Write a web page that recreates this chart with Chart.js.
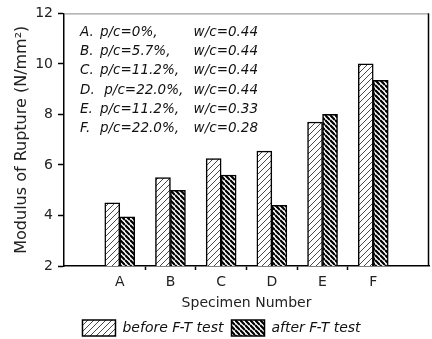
<!DOCTYPE html>
<html>
<head>
<meta charset="utf-8">
<script src="https://cdn.jsdelivr.net/npm/chart.js@4.4.1/dist/chart.umd.min.js"></script>
<style>
  html, body { margin: 0; padding: 0; background: #fff; }
  #wrap { width: 432px; height: 339px; }
</style>
</head>
<body>
<div id="wrap"><canvas id="mor"></canvas></div>
<script>
// specimens and modulus of rupture (N/mm²) before / after freeze-thaw
const specimens = ['A', 'B', 'C', 'D', 'E', 'F'];
const beforeFT = [4.5, 5.5, 6.25, 6.55, 7.7, 10.0];
const afterFT = [3.95, 5.0, 5.6, 4.4, 8.0, 9.35];
const yTicks = [2, 4, 6, 8, 10, 12];

// mix details shown in the upper-left note
const mixLabels = ['A.', 'B.', 'C.', 'D.', 'E.', 'F.'];
const pcText = ['p/c=0%,', 'p/c=5.7%,', 'p/c=11.2%,', ' p/c=22.0%,', 'p/c=11.2%,', 'p/c=22.0%,'];
const wcText = ['w/c=0.44', 'w/c=0.44', 'w/c=0.44', 'w/c=0.44', 'w/c=0.33', 'w/c=0.28'];

const FONT = '"DejaVu Sans", "Liberation Sans", sans-serif';

// hatch fills
function hatch(size, width, color, forward) {
  const c = document.createElement('canvas');
  c.width = size; c.height = size;
  const g = c.getContext('2d');
  g.fillStyle = '#fff';
  g.fillRect(0, 0, size, size);
  g.strokeStyle = color;
  g.lineWidth = width;
  g.beginPath();
  for (let k = -1; k <= 2; k++) {
    if (forward) { // "/"
      g.moveTo(0, k * size);
      g.lineTo(size, k * size - size);
    } else {       // "\"
      g.moveTo(0, k * size);
      g.lineTo(size, k * size + size);
    }
  }
  g.stroke();
  return g.createPattern(c, 'repeat');
}

const thinHatch = hatch(6, 0.9, '#333', true);
const thickHatch = hatch(5, 2.2, '#000', false);

const toPoints = vals => vals.map((v, i) => ({ x: i + 1, y: v }));

// frame on top and right of the plot
const framePlugin = {
  id: 'frame',
  afterDraw(chart) {
    const { ctx, chartArea: a } = chart;
    ctx.save();
    ctx.strokeStyle = '#888';
    ctx.lineWidth = 1;
    ctx.beginPath();
    ctx.moveTo(a.left, a.top + 0.5);
    ctx.lineTo(a.right, a.top + 0.5);
    ctx.stroke();
    ctx.strokeStyle = '#000';
    ctx.lineWidth = 1.5;
    ctx.beginPath();
    ctx.moveTo(a.right - 0.5, a.top);
    ctx.lineTo(a.right - 0.5, a.bottom);
    ctx.stroke();
    ctx.restore();
  }
};

// mix-proportion note
const notePlugin = {
  id: 'note',
  afterDraw(chart) {
    const { ctx } = chart;
    ctx.save();
    ctx.font = 'italic 13.5px ' + FONT;
    ctx.fillStyle = '#111';
    ctx.textBaseline = 'middle';
    for (let i = 0; i < mixLabels.length; i++) {
      const y = 32.5 + i * 19.2;
      ctx.textAlign = 'left';
      ctx.fillText(mixLabels[i], 80, y);
      ctx.fillText(pcText[i], 100, y);
      ctx.textAlign = 'right';
      ctx.fillText(wcText[i], 258, y);
    }
    ctx.restore();
  }
};

new Chart(document.getElementById('mor'), {
  type: 'bar',
  data: {
    datasets: [{
      label: 'before F-T test',
      data: toPoints(beforeFT),
      backgroundColor: thinHatch,
      borderColor: '#000',
      borderWidth: 1.5
    }, {
      label: 'after F-T test',
      data: toPoints(afterFT),
      backgroundColor: thickHatch,
      borderColor: '#000',
      borderWidth: 1.5
    }]
  },
  options: {
    responsive: true,
    maintainAspectRatio: false,
    animation: false,
    barThickness: 15,
    layout: { padding: { left: 14, right: 3, top: 13, bottom: 0 } },
    plugins: {
      tooltip: { enabled: false },
      legend: {
        position: 'bottom',
        maxHeight: 27,
        labels: {
          boxWidth: 33,
          boxHeight: 16,
          padding: 8,
          color: '#111',
          font: { family: FONT, size: 14, style: 'italic' }
        }
      }
    },
    scales: {
      x: {
        type: 'linear',
        min: -0.1,
        max: 7.1,
        offset: false,
        afterBuildTicks(scale) {
          const t = [];
          for (let v = 1; v <= specimens.length; v += 0.5) t.push({ value: v });
          scale.ticks = t;
        },
        afterFit(scale) { scale.height = 46; },
        border: { display: true, color: '#000', width: 1.5 },
        grid: {
          offset: false,
          drawOnChartArea: false,
          tickLength: 4,
          tickWidth: 1.5,
          color: c => (c.tick && !Number.isInteger(c.tick.value)) ? '#000' : 'rgba(0,0,0,0)'
        },
        ticks: {
          autoSkip: false,
          maxRotation: 0,
          padding: 4,
          color: '#222',
          font: { family: FONT, size: 14 },
          callback: v => Number.isInteger(v) ? specimens[v - 1] : ''
        },
        title: {
          display: true,
          text: 'Specimen Number',
          color: '#222',
          padding: { top: 0, bottom: 0 },
          font: { family: FONT, size: 14 }
        }
      },
      y: {
        min: 2,
        max: 12,
        afterBuildTicks(scale) {
          scale.ticks = yTicks.map(v => ({ value: v }));
        },
        afterFit(scale) { scale.width = 50; },
        border: { display: true, color: '#000', width: 1.5 },
        grid: {
          drawOnChartArea: false,
          tickLength: 6,
          tickWidth: 1.5,
          color: '#000'
        },
        ticks: {
          padding: 5,
          color: '#222',
          font: { family: FONT, size: 14 }
        },
        title: {
          display: true,
          text: 'Modulus of Rupture (N/mm²)',
          color: '#222',
          padding: { top: 0, bottom: 0 },
          font: { family: FONT, size: 16, lineHeight: 1 }
        }
      }
    }
  },
  plugins: [framePlugin, notePlugin]
});
</script>
</body>
</html>
